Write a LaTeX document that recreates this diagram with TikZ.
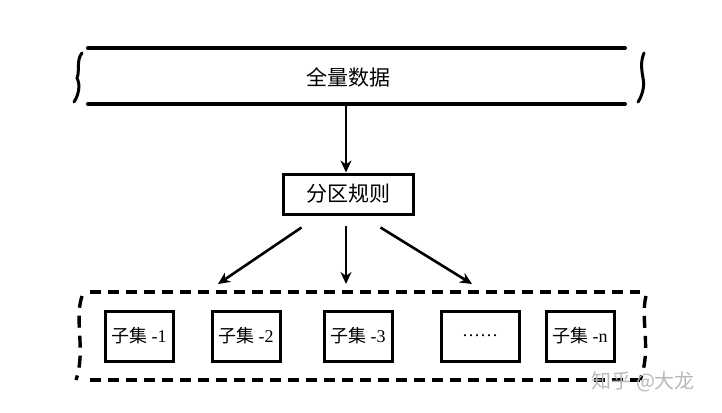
\documentclass[tikz,border=0pt]{standalone}
\usepackage{fontspec}
\setmainfont{Liberation Serif}
\newfontfamily\cjk{Noto Sans CJK SC}
\usetikzlibrary{arrows.meta}
\begin{document}
\begin{tikzpicture}[x=1pt,y=-1pt,
  band/.style={line width=4pt,line cap=round},
  sbox/.style={draw,line width=3pt,minimum width=68pt,minimum height=50pt,inner sep=0pt,font=\cjk\fontsize{18}{18}\selectfont},
  arr/.style={line width=2.6pt,-{Stealth[length=12pt,width=11pt]}},
  dashline/.style={line width=3.4pt,dash pattern=on 11pt off 7pt}]
\useasboundingbox (0,0) rectangle (722,412);
\fill[white] (0,0) rectangle (722,412);
% top band
\coordinate (t1) at (88,48); \coordinate (t2) at (625,48);
\coordinate (b1) at (88,104); \coordinate (b2) at (625,104);
\draw[band] (t1) -- (t2);
\draw[band] (b1) -- (b2);
\draw[line width=3pt,line cap=round] (82,53) .. controls (76,60) and (80,72) .. (77,78) .. controls (81,86) and (78,96) .. (74,102);
\draw[line width=3pt,line cap=round] (644,53) .. controls (640,62) and (642,72) .. (643,78) .. controls (645,86) and (642,96) .. (638,102);
\node[font=\cjk\fontsize{21}{21}\selectfont] (full) at (348,77) {全量数据};
\coordinate (fullb) at (346,106);
% rule box
\node[draw,line width=3pt,minimum width=130pt,minimum height=40pt,inner sep=0pt,font=\cjk\fontsize{21}{21}\selectfont] (rule) at (348,194) {分区规则};
\draw[arr] (fullb) -- (rule.north -| fullb);
% dashed container
\coordinate (d1) at (90,292); \coordinate (d2) at (640,292);
\coordinate (d3) at (90,380); \coordinate (d4) at (640,380);
\draw[dashline] (d1) -- (d2);
\draw[dashline] (d3) -- (d4);
\draw[dashline,dash pattern=on 12pt off 8pt] (82,296) .. controls (74,320) and (86,350) .. (76,380);
\draw[dashline,dash pattern=on 12pt off 8pt] (646,296) .. controls (640,320) and (652,350) .. (640,380);
% arrows
\coordinate (a1) at (218,284); \coordinate (a2) at (346,284); \coordinate (a3) at (472,284);
\draw[arr] (rule.south west) ++(20,12) -- (a1);
\draw[arr] (346,226) -- (a2);
\draw[arr] (rule.south east) ++(-34,12) -- (a3);
% subsets
\node[sbox] (s1) at (139,336) {子集 {\rmfamily -1}};
\node[sbox] (s2) at (246,336) {子集 {\rmfamily -2}};
\node[sbox] (s3) at (358,336) {子集 {\rmfamily -3}};
\node[sbox,minimum width=78pt] (s4) at (480,336) {\rmfamily ……};
\node[sbox] (s5) at (580,336) {子集 {\rmfamily -n}};
% watermark
\node[font=\cjk\fontsize{20}{20}\selectfont,text=gray!55,anchor=west] (wm) at (588,382) {知乎 @大龙};
\end{tikzpicture}
\end{document}
